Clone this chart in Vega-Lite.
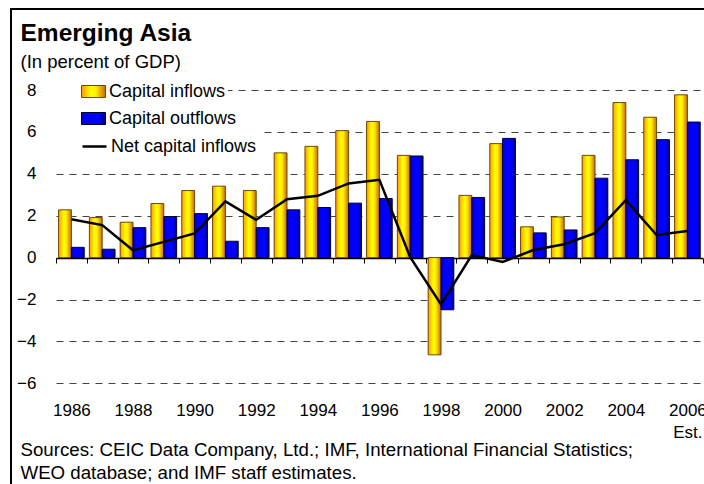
{
  "$schema": "https://vega.github.io/schema/vega-lite/v6.json",
  "width": 739,
  "height": 500,
  "autosize": {"type": "none"},
  "padding": {"left": 11, "top": 9, "right": 0, "bottom": 0},
  "background": "white",
  "config": {
    "view": {"stroke": "#000000", "strokeWidth": 2},
    "font": "Liberation Sans",
    "legend": {
      "orient": "none",
      "direction": "vertical",
      "fillColor": "white",
      "padding": 2,
      "symbolOffset": 23,
      "symbolSize": 576,
      "labelFontSize": 18,
      "labelFont": "Liberation Sans",
      "labelColor": "#000000",
      "labelOffset": 3,
      "labelLimit": 400
    }
  },
  "resolve": {"scale": {"stroke": "independent"}, "legend": {"stroke": "independent"}},
  "title": {
    "text": "Emerging Asia",
    "subtitle": "(In percent of GDP)",
    "anchor": "start",
    "frame": "group",
    "orient": "top",
    "offset": -63,
    "dx": 9.5,
    "font": "Liberation Sans",
    "fontSize": 24.5,
    "fontWeight": "bold",
    "color": "#000000",
    "subtitleFont": "Liberation Sans",
    "subtitleFontSize": 18.5,
    "subtitleColor": "#000000",
    "subtitlePadding": 6
  },
  "data": {
    "values": [
      {"year": "1986", "inflows": 2.28, "outflows": 0.49, "net": 1.83},
      {"year": "1987", "inflows": 1.91, "outflows": 0.40, "net": 1.55},
      {"year": "1988", "inflows": 1.69, "outflows": 1.43, "net": 0.35},
      {"year": "1989", "inflows": 2.58, "outflows": 1.96, "net": 0.75},
      {"year": "1990", "inflows": 3.20, "outflows": 2.10, "net": 1.15},
      {"year": "1991", "inflows": 3.41, "outflows": 0.78, "net": 2.68},
      {"year": "1992", "inflows": 3.20, "outflows": 1.43, "net": 1.80},
      {"year": "1993", "inflows": 5.00, "outflows": 2.28, "net": 2.79},
      {"year": "1994", "inflows": 5.31, "outflows": 2.39, "net": 2.95},
      {"year": "1995", "inflows": 6.06, "outflows": 2.60, "net": 3.54},
      {"year": "1996", "inflows": 6.50, "outflows": 2.82, "net": 3.71},
      {"year": "1997", "inflows": 4.88, "outflows": 4.85, "net": 0.02},
      {"year": "1998", "inflows": -4.64, "outflows": -2.49, "net": -2.23},
      {"year": "1999", "inflows": 2.97, "outflows": 2.87, "net": 0.12},
      {"year": "2000", "inflows": 5.44, "outflows": 5.69, "net": -0.21},
      {"year": "2001", "inflows": 1.47, "outflows": 1.18, "net": 0.36},
      {"year": "2002", "inflows": 1.94, "outflows": 1.32, "net": 0.64},
      {"year": "2003", "inflows": 4.88, "outflows": 3.79, "net": 1.16},
      {"year": "2004", "inflows": 7.40, "outflows": 4.67, "net": 2.74},
      {"year": "2005", "inflows": 6.70, "outflows": 5.63, "net": 1.08},
      {"year": "2006", "inflows": 7.77, "outflows": 6.47, "net": 1.27}
    ]
  },
  "encoding": {
    "x": {
      "field": "year",
      "type": "ordinal",
      "sort": null,
      "scale": {"range": [45, 691.8], "paddingInner": 0, "paddingOuter": 0},
      "axis": {
        "orient": "bottom",
        "offset": -251,
        "domain": true,
        "domainColor": "#000000",
        "domainWidth": 1.5,
        "ticks": true,
        "tickBand": "extent",
        "tickSize": 5,
        "tickColor": "#000000",
        "tickWidth": 1,
        "labelPadding": 139,
        "labelAngle": 0,
        "labelBaseline": "top",
        "labelFontSize": 17,
        "labelColor": "#000000",
        "labelFont": "Liberation Sans",
        "labelLineHeight": 22,
        "labelOverlap": false,
        "labelBound": false,
        "labelFlush": false,
        "labelExpr": "toNumber(datum.value) % 2 == 0 ? (datum.value == '2006' ? ['2006', 'Est.'] : datum.label) : ''",
        "grid": false,
        "title": [
          "Sources: CEIC Data Company, Ltd.; IMF, International Financial  Statistics;",
          "WEO database; and IMF staff estimates."
        ],
        "titleX": 9,
        "titleY": 182,
        "titleAlign": "left",
        "titleAnchor": "start",
        "titleBaseline": "top",
        "titleFont": "Liberation Sans",
        "titleFontSize": 18.7,
        "titleFontWeight": "normal",
        "titleLineHeight": 23.5,
        "titleColor": "#000000"
      }
    }
  },
  "layer": [
    {
      "mark": {
        "type": "bar",
        "strokeWidth": 1,
        "fill": {
          "gradient": "linear", "x1": 0, "x2": 1, "y1": 0, "y2": 0,
          "stops": [
            {"offset": 0, "color": "#FF9900"},
            {"offset": 0.4, "color": "#FFFF00"},
            {"offset": 0.6, "color": "#FFEE00"},
            {"offset": 1, "color": "#CC6600"}
          ]
        }
      },
      "encoding": {
        "y": {
          "field": "inflows",
          "type": "quantitative",
          "title": null,
          "scale": {"domain": [-6, 8], "range": [374.3, 81], "nice": false, "zero": false},
          "axis": {
            "values": [-6, -4, -2, 0, 2, 4, 6, 8],
            "domain": false,
            "ticks": false,
            "labelPadding": -25,
            "labelFontSize": 17,
            "labelColor": "#000000",
            "labelFont": "Liberation Sans",
            "grid": true,
            "gridDash": [7, 6],
            "gridColor": "#444444",
            "gridWidth": 1
          }
        },
        "y2": {"datum": 0},
        "xOffset": {
          "datum": "Capital inflows",
          "scale": {"domain": ["Capital inflows", "Capital outflows"], "paddingInner": 0, "paddingOuter": 0.2}
        },
        "stroke": {
          "datum": "Capital inflows",
          "scale": {"domain": ["Capital inflows"], "range": ["#6B4A00"]},
          "legend": {
            "legendX": 45,
            "legendY": 68,
            "title": null,
            "symbolType": "M-1,-0.5H1V0.5H-1Z",
            "symbolStrokeWidth": 1
          }
        }
      }
    },
    {
      "mark": {
        "type": "bar",
        "strokeWidth": 1,
        "fill": {
          "gradient": "linear", "x1": 0, "x2": 1, "y1": 0, "y2": 0,
          "stops": [
            {"offset": 0, "color": "#0000CC"},
            {"offset": 0.3, "color": "#0000FF"},
            {"offset": 0.7, "color": "#0000FF"},
            {"offset": 1, "color": "#000080"}
          ]
        }
      },
      "encoding": {
        "y": {"field": "outflows", "type": "quantitative", "title": null},
        "y2": {"datum": 0},
        "xOffset": {"datum": "Capital outflows"},
        "stroke": {
          "datum": "Capital outflows",
          "scale": {"domain": ["Capital outflows"], "range": ["#000033"]},
          "legend": {
            "legendX": 45,
            "legendY": 95,
            "title": null,
            "symbolType": "M-1,-0.5H1V0.5H-1Z",
            "symbolStrokeWidth": 1
          }
        }
      }
    },
    {
      "mark": {"type": "line", "strokeWidth": 2.5},
      "encoding": {
        "y": {"field": "net", "type": "quantitative", "title": null},
        "stroke": {
          "datum": "Net capital inflows",
          "scale": {"domain": ["Net capital inflows"], "range": ["#000000"]},
          "legend": {
            "legendX": 45,
            "legendY": 122,
            "title": null,
            "symbolType": "stroke",
            "symbolStrokeWidth": 2.5
          }
        }
      }
    }
  ]
}
